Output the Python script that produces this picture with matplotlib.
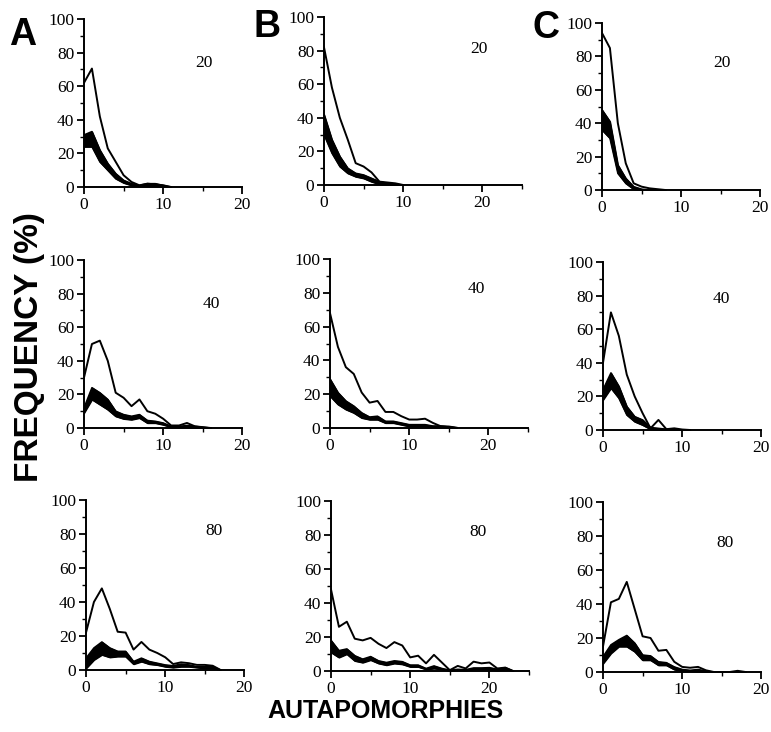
import matplotlib
matplotlib.use("Agg")
import matplotlib.pyplot as plt
from matplotlib.ticker import MultipleLocator

# ---------------- data (percent frequency vs number of autapomorphies) -------------
panel_letters = ["A", "B", "C"]
row_labels = ["20", "40", "80"]

# Row 1 (20)
A20_upper = [62, 70.5, 42, 23, 15, 7, 3, 1, 2, 1.5, 1, 0]
A20_band_lo = [24, 24, 15, 10, 5, 2.5, 1, 0.5, 0.5, 0.5, 0.3, 0]
A20_band_hi = [31, 33, 22, 14, 8, 4, 2, 1, 2, 2, 1, 0]

B20_upper = [82, 58, 40, 27, 13, 11, 7.5, 2, 1.5, 1, 0]
B20_band_lo = [30, 19, 11, 7, 5, 4, 2, 0.5, 0.3, 0, 0]
B20_band_hi = [42, 27, 17, 10, 7, 6, 4, 2, 1, 0.5, 0]

C20_upper = [94, 85, 40, 16, 4, 2, 1, 0.5, 0]
C20_band_lo = [36, 31, 10, 4, 0.5, 0, 0, 0, 0]
C20_band_hi = [48, 41, 15, 7, 2, 0.5, 0, 0, 0]

# Row 2 (40)
A40_upper = [30, 50, 52, 40, 21, 18, 13, 17, 10, 8.5, 5.5, 1.5, 1.5, 3, 1, 0.5, 0]
A40_band_lo = [9, 17, 14, 11, 7, 5.5, 5, 6, 3, 3, 2, 0.5, 0.5, 0.5, 0.2, 0, 0]
A40_band_hi = [12, 24, 21, 17, 10, 8, 7, 8, 4.5, 4, 3, 1, 1, 1.5, 1, 0.5, 0]

B40_upper = [68, 48, 36, 32, 21, 15, 16, 9.5, 9.5, 7, 5, 5, 5.5, 3, 1, 0.5, 0]
B40_band_lo = [19, 14, 11, 9, 6, 5, 5, 3, 3, 2, 1, 1, 1, 0.5, 0.5, 0.3, 0]
B40_band_hi = [29, 21, 16, 13, 9, 6.5, 7, 4, 4, 3, 2, 2, 2, 1.2, 1.2, 1, 0.3]

C40_upper = [40, 70, 56, 33, 20, 10, 1, 6, 0.5, 1, 0.3, 0]
C40_band_lo = [18, 25, 19, 9, 5, 3, 0.5, 0.3, 0, 0, 0, 0]
C40_band_hi = [24, 34, 26, 14, 8, 6, 1.5, 1, 0.5, 0.5, 0, 0]

# Row 3 (80)
A80_upper = [22, 40, 48, 36, 22.5, 22, 12, 16.5, 12, 10, 7.5, 3.5, 4.5, 4, 3, 3, 2.5, 0]
A80_band_lo = [1, 6, 9, 7.5, 8, 8, 3.5, 5, 3.5, 3, 2, 1.5, 2, 2, 1.5, 1, 1, 0]
A80_band_hi = [7, 13, 16.5, 13, 11, 11, 5, 7, 5, 4, 3, 2.5, 3.5, 3, 2, 2, 2, 0]

B80_upper = [48, 26, 29, 19, 18, 19.5, 16, 13.5, 17, 15, 8, 9, 4.5, 9.5, 5, 0.5,
             3, 1.5, 5.5, 4.5, 5, 1.5, 2, 0]
B80_band_lo = [11, 8, 10, 6, 5, 6.5, 4.5, 3.5, 4.5, 4, 2.5, 2.5, 1, 1.5, 1, 0,
               0.5, 0.3, 1, 1, 1, 0.3, 1, 0]
B80_band_hi = [18, 12, 13, 9, 7, 8.5, 6, 5, 6, 5.5, 3.5, 3.5, 1.5, 3, 1.5, 0.5,
               1, 0.8, 1.8, 1.8, 2, 1, 2, 0]

C80_upper = [15, 41, 43, 53, 37, 21, 20, 12.5, 13, 6, 3, 2.5, 3, 1, 0, 0, 0, 0.7, 0]
C80_band_lo = [5, 11, 15, 15, 12, 7, 7, 4, 4, 1.5, 0.5, 0.5, 0.3, 0, 0, 0, 0, 0, 0]
C80_band_hi = [9, 16, 19, 21.5, 17, 10, 9.5, 6, 5.5, 3, 1.5, 1, 1.5, 0.5, 0, 0, 0, 0, 0]

panels = [
    [(A20_upper, A20_band_lo, A20_band_hi), (B20_upper, B20_band_lo, B20_band_hi),
     (C20_upper, C20_band_lo, C20_band_hi)],
    [(A40_upper, A40_band_lo, A40_band_hi), (B40_upper, B40_band_lo, B40_band_hi),
     (C40_upper, C40_band_lo, C40_band_hi)],
    [(A80_upper, A80_band_lo, A80_band_hi), (B80_upper, B80_band_lo, B80_band_hi),
     (C80_upper, C80_band_lo, C80_band_hi)],
]
col_xmax = [20, 25, 20]
col_xticks = [[0, 10, 20], [0, 10, 20], [0, 10, 20]]
yticks = [0, 20, 40, 60, 80, 100]

# ---------------- layout (pixel geometry) --------------------------------
W, H = 771, 732
# (x of x=0, y pixel of y=0, y pixel of y=100)
geom = [
    [(84, 187, 19), (324, 185, 17), (602, 190, 23)],
    [(84, 428, 260), (330, 428, 259), (603, 430, 262)],
    [(86, 670, 500), (331, 671, 501), (603, 672, 502)],
]
px_per_unit = 7.92
# label positions in data coords
label_pos = [
    [(15.1, 74), (19.6, 81), (15.2, 76)],
    [(16.1, 74), (18.5, 82), (14.9, 78)],
    [(16.2, 82), (18.6, 82), (15.4, 76)],
]

serif = ["Liberation Serif", "DejaVu Serif"]
sans = ["Liberation Sans", "DejaVu Sans"]

fig = plt.figure(figsize=(W / 100, H / 100), dpi=100)

for r in range(3):
    for c in range(3):
        x0, y0, y100 = geom[r][c]
        w = px_per_unit * col_xmax[c]
        h = y0 - y100
        ax = fig.add_axes([x0 / W, 1 - y0 / H, w / W, h / H])
        upper, lo, hi = panels[r][c]
        xs = list(range(len(upper)))
        xb = list(range(len(lo)))
        ax.fill_between(xb, lo, hi, color="black", lw=1.0, edgecolor="black")
        ax.plot(xb, lo, color="black", lw=1.1)
        ax.plot(xb, hi, color="black", lw=1.1)
        ax.plot(xs, upper, color="black", lw=1.4)
        ax.set_xlim(0, col_xmax[c])
        ax.set_ylim(0, 100)
        for s in ["top", "right"]:
            ax.spines[s].set_visible(False)
        for s in ["left", "bottom"]:
            ax.spines[s].set_linewidth(1.4)
        ax.set_xticks(col_xticks[c])
        ax.xaxis.set_minor_locator(MultipleLocator(5))
        ax.set_yticks(yticks)
        ax.yaxis.set_minor_locator(MultipleLocator(10))
        ax.tick_params(axis="both", which="major", direction="out", length=5,
                       width=1.3, labelsize=12.5, pad=2)
        ax.tick_params(axis="both", which="minor", direction="out", length=3,
                       width=1.0)
        for lab in ax.get_xticklabels() + ax.get_yticklabels():
            lab.set_family(serif)
        lx, ly = label_pos[r][c]
        ax.text(lx, ly, row_labels[r], ha="center", va="center", fontsize=12.5,
                family=serif, clip_on=False)

# panel letters
letter_pos = [(9, 45), (254, 37), (533, 38)]
for L, (px, py) in zip(panel_letters, letter_pos):
    fig.text(px / W, 1 - py / H, L, ha="left", va="baseline", fontsize=27,
             fontweight="bold", family=sans)

fig.text(30 / W, 1 - 347 / H, "FREQUENCY (%)", rotation=90, ha="center",
         va="center", fontsize=24, fontweight="bold", family=sans)
fig.text(385 / W, 1 - 711 / H, "AUTAPOMORPHIES", ha="center", va="center",
         fontsize=18, fontweight="bold", family=sans)

fig.savefig("out.png", dpi=100)
